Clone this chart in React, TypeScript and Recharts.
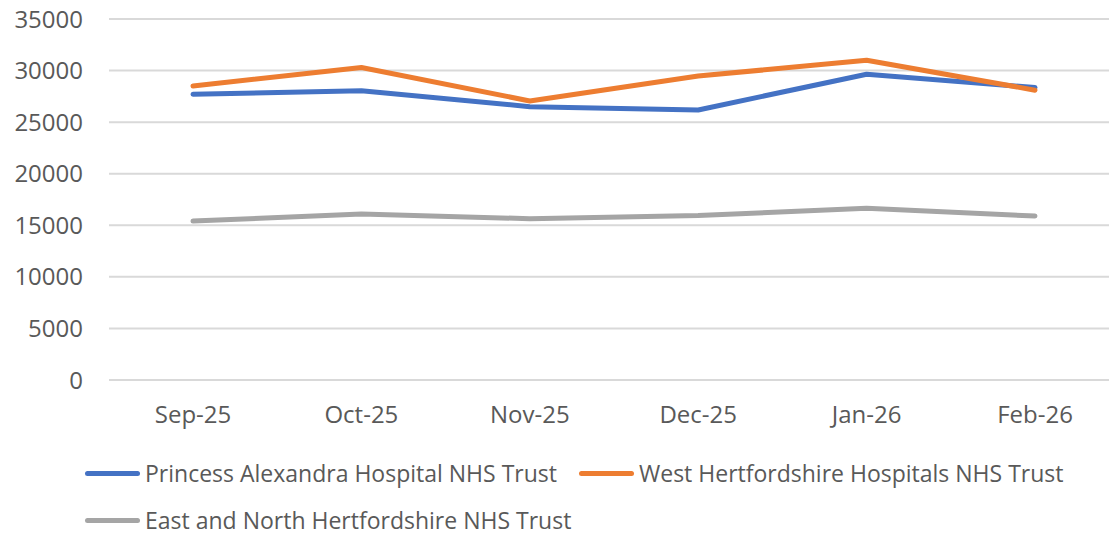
import React from 'react';
import { LineChart, Line, XAxis, YAxis, CartesianGrid } from 'recharts';

const months = ['Sep-25', 'Oct-25', 'Nov-25', 'Dec-25', 'Jan-26', 'Feb-26'];
const princessAlexandra = [27700, 28050, 26500, 26180, 29650, 28350];
const westHerts = [28500, 30300, 27050, 29470, 31000, 28100];
const eastNorthHerts = [15410, 16090, 15640, 15950, 16640, 15900];
const yTicks = [0, 5000, 10000, 15000, 20000, 25000, 30000, 35000];

const seriesNames = [
  'Princess Alexandra Hospital NHS Trust',
  'West Hertfordshire Hospitals NHS Trust',
  'East and North Hertfordshire NHS Trust',
];
const seriesColors = ['#4472C4', '#ED7D31', '#A5A5A5'];

const data = months.map((m, i) => ({
  month: m,
  pa: princessAlexandra[i],
  wh: westHerts[i],
  enh: eastNorthHerts[i],
}));

const FONT = '"Open Sans", sans-serif';
const TEXT = '#595959';

const LegendBlock = () => (
  <div
    style={{
      position: 'absolute',
      left: 85,
      top: 459,
      display: 'flex',
      flexWrap: 'wrap',
      width: 1010,
      rowGap: 19,
      fontFamily: FONT,
      fontSize: 23,
      lineHeight: '28px',
      color: TEXT,
    }}
  >
    {seriesNames.map((n, i) => (
      <div key={n} style={{ display: 'flex', alignItems: 'center', marginRight: 22, height: 28 }}>
        <div
          style={{
            width: 55,
            height: 5,
            borderRadius: 3,
            background: seriesColors[i],
            marginRight: 5,
          }}
        />
        <span style={{ whiteSpace: 'nowrap' }}>{n}</span>
      </div>
    ))}
  </div>
);

export default function App() {
  return (
    <div
      style={{
        position: 'fixed',
        left: 0,
        top: 0,
        width: 1109,
        height: 534,
        overflow: 'hidden',
        background: '#fff',
      }}
    >
      <LineChart
        width={1119}
        height={534}
        data={data}
        margin={{ top: 19, right: 0, left: 0, bottom: 124 }}
      >
        <CartesianGrid vertical={false} stroke="#D9D9D9" strokeWidth={2} />
        <XAxis
          dataKey="month"
          padding={{ left: 84, right: 84 }}
          axisLine={{ stroke: '#D9D9D9', strokeWidth: 2 }}
          tickLine={false}
          tickSize={0}
          tickMargin={26}
          tick={{ fill: TEXT, fontFamily: FONT, fontSize: 24 }}
          interval={0}
        />
        <YAxis
          width={109}
          domain={[0, 35000]}
          ticks={yTicks}
          axisLine={false}
          tickLine={false}
          tickSize={0}
          tickMargin={26}
          tick={{ fill: TEXT, fontFamily: FONT, fontSize: 24 }}
          interval={0}
        />
        <Line
          dataKey="pa"
          name={seriesNames[0]}
          stroke={seriesColors[0]}
          strokeWidth={5}
          strokeLinecap="round"
          strokeLinejoin="round"
          dot={false}
          isAnimationActive={false}
        />
        <Line
          dataKey="wh"
          name={seriesNames[1]}
          stroke={seriesColors[1]}
          strokeWidth={5}
          strokeLinecap="round"
          strokeLinejoin="round"
          dot={false}
          isAnimationActive={false}
        />
        <Line
          dataKey="enh"
          name={seriesNames[2]}
          stroke={seriesColors[2]}
          strokeWidth={5}
          strokeLinecap="round"
          strokeLinejoin="round"
          dot={false}
          isAnimationActive={false}
        />
      </LineChart>
      <LegendBlock />
    </div>
  );
}
